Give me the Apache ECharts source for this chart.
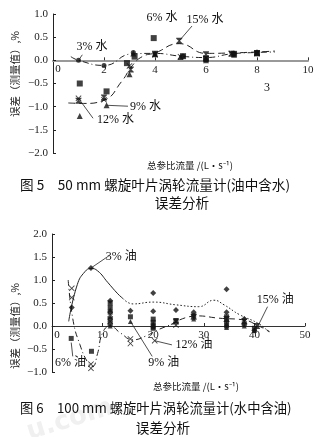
<!DOCTYPE html>
<html><head><meta charset="utf-8">
<script src="https://cdn.jsdelivr.net/npm/echarts@6/dist/echarts.min.js"></script>
<style>html,body{margin:0;padding:0;background:#fff}#c{width:328px;height:437px}</style>
</head><body><div id="c"></div>
<script>
// ---------- Figure 5 data (油中含水, x: L/s, y: %) ----------
const w3 = [[1,0],[2,-0.11],[3.15,0.17],[4,0.14],[5.1,0.09],[6,0.02],[7.1,0.15],[8,0.17]];
const w6 = [[1.05,-0.5],[2.1,-0.67],[2.9,-0.06],[3.2,0.08],[3.95,0.48],[5.1,0.09],[6,0.03],[7.1,0.14],[8,0.15]];
const w9 = [[1.05,-1.2],[2.1,-0.97],[3.0,-0.3],[3.15,0.15],[4,0.13],[5,0.07],[6,0.0],[7.1,0.12],[8,0.18]];
const w12 = [[1,-0.82],[2,-0.85],[3.0,-0.12],[4,0.12],[5,0.08],[6,0.05],[7,0.15],[8,0.15]];
const w15 = [[1,-0.87],[2,-0.8],[3.05,-0.2],[4,0.14],[4.95,0.42],[6,0.13],[7,0.14],[8,0.16]];
const wCurveA = [[0.7,0.08],[1,0],[2,-0.11],[3.1,0.14],[4,0.15],[5,0.09],[6,0.06],[7,0.14],[8,0.17],[8.7,0.18]];
const wCurveB = [[0.6,-0.92],[1.2,-0.93],[2,-0.86],[2.7,-0.45],[3.1,-0.12],[3.5,0.08],[4,0.16],[4.95,0.36],[6,0.15],[7,0.16],[8,0.18],[8.7,0.2]];

// ---------- Figure 6 data (水中含油) ----------
const o3 = [[3.9,0.4],[7.7,1.26],[11.5,0.55],[15.5,0.33],[20,0.72],[20,0.32],[24.5,0.35],[28,0.3],[34.5,0.8],[34.5,0.3],[38,0.15],[40,-0.1]];
const o6 = [[3.8,-0.27],[7.8,-0.55],[11.5,0.5],[11.5,0.4],[11.5,0.3],[11.5,0.15],[11.5,0.05],[15.5,0.2],[20,0.15],[20,0.08],[20,0.0],[20,-0.05],[24.5,0.12],[28,0.22],[34.5,0.2],[34.5,0.1],[34.5,0.0],[38,0.05],[40,-0.05]];
const o9 = [[11.5,0.35],[11.5,0.2],[11.5,0.0],[15.5,0.1],[20,0.05],[20,-0.02],[28,0.15],[34.5,0.05],[34.5,-0.03],[38,0.0],[40,-0.1]];
const o12 = [[3.9,0.82],[3.9,0.62],[7.7,-0.83],[7.7,-0.92],[11.5,0.25],[11.5,0.1],[15.5,-0.28],[15.5,-0.38],[20.3,-0.32],[24.5,0.02]];
const o15 = [[24.5,0.1],[28,0.2],[34.5,0.15],[38,0.1],[40.5,0.0]];
const oCurve3a = [[3.3,0.1],[5,0.9],[6.5,1.18],[7.7,1.25],[9,1.2],[11,0.95],[13,0.7],[14,0.6]];
const oCurve3b = [[14,0.6],[16,0.48],[20,0.52],[24.5,0.46],[29,0.42],[32,0.56],[34,0.46],[37,0.25],[41,0.04],[43,-0.15]];
const oCurve12 = [[3.2,1.0],[4.2,0.1],[5.5,-0.4],[7,-0.78],[8,-0.88],[9,-0.6],[10,-0.15],[11.5,0.0],[13.5,-0.15],[16,-0.3],[18.5,-0.22],[21,-0.08],[24,0.05]];
const oCurve15 = [[23.5,0.03],[28.6,0.22],[33,0.17],[38,0.13],[40.5,0.02],[43,-0.12]];

// tick settings
const xTicks1 = {min:0,max:10,interval:2};
const yTicks1 = {min:-2,max:1,interval:0.5};
const xTicks2 = {min:0,max:50,interval:10};
const yTicks2 = {min:-1,max:2,interval:0.5};

// annotations: [text, anchor(data), align, leaderFrom(data)|null, leaderTo(data)|null]
const ann1 = [
  ['3% 水',[1.53,0.30],'center',[1.15,0.12],[1,0]],
  ['6% 水',[4.27,0.91],'center',null,null],
  ['15% 水',[5.96,0.87],'center',[5.45,0.74],[4.95,0.42]],
  ['9% 水',[3.02,-1.0],'left',[2.94,-0.99],[2.1,-0.97]],
  ['12% 水',[1.73,-1.29],'left',[1.57,-1.25],[1,-0.82]],
  ['3',[8.39,-0.6],'center',null,null],
  ['0',[0.2,-0.2],'center',null,null]
];
const ann2 = [
  ['3% 油',[10.6,1.5],'left',[11.3,1.53],[7.7,1.26]],
  ['15% 油',[44.1,0.57],'center',[42.6,0.42],[40.8,0.02]],
  ['12% 油',[24.4,-0.4],'left',[23.7,-0.41],[20.3,-0.32]],
  ['9% 油',[19.0,-0.8],'left',[19.8,-0.66],[15.5,0.1]],
  ['6% 油',[0.6,-0.8],'left',[4.1,-0.66],[3.8,-0.36]],
  ['0',[1.0,-0.2],'center',null,null]
];

const numFont = '"Liberation Serif","DejaVu Serif",serif';
const cjkFont = '"Liberation Serif","Noto Sans CJK SC",serif';
const fmt = v => v.toFixed(1).replace('-', '\u2212');
const xShape = 'path://M0,1L1,0L5,4L9,0L10,1L6,5L10,9L9,10L5,6L1,10L0,9L4,5Z';
const hourglass = 'path://M0,0L10,0L10,1.6L6.2,5L10,8.4L10,10L0,10L0,8.4L3.8,5L0,1.6Z';

const G1 = {left:53, top:14, width:255, height:139};
const G2 = {left:52, top:234, width:253, height:138};
// distance from grid bottom up to the y=0 line
const zeroOff1 = -G1.height * (0 - yTicks1.min) / (yTicks1.max - yTicks1.min);
const zeroOff2 = -G2.height * (0 - yTicks2.min) / (yTicks2.max - yTicks2.min);

function sc(data, sym, gi, size){
  return {type:'scatter', data, symbol:sym, symbolSize:size||5, xAxisIndex:gi, yAxisIndex:gi,
    itemStyle:{color:'#111'}, z:5, silent:true};
}
function ln(data, dash, gi, w){
  return {type:'line', data, smooth:0.5, showSymbol:false, xAxisIndex:gi, yAxisIndex:gi,
    lineStyle:{color:'#222', width:w||1, type:dash}, z:3, silent:true};
}
function xAx(t, gi, lineColor, lineW, off){
  return {type:'value', gridIndex:gi, min:t.min, max:t.max, interval:t.interval, offset:off,
    axisLine:{onZero:false, lineStyle:{color:lineColor, width:lineW}},
    axisTick:{show:true, inside:true, length:3, lineStyle:{color:'#333'}},
    axisLabel:{color:'#222', fontFamily:numFont, fontSize:11, margin:4, showMinLabel:false, hideOverlap:false},
    splitLine:{show:false}};
}
function yAx(t, gi){
  return {type:'value', gridIndex:gi, min:t.min, max:t.max, interval:t.interval,
    axisLine:{show:true, onZero:false, lineStyle:{color:'#222', width:1}},
    axisTick:{show:true, inside:true, length:3, lineStyle:{color:'#222'}},
    axisLabel:{color:'#222', fontFamily:numFont, fontSize:11, margin:5, formatter:fmt},
    splitLine:{show:false}};
}

const chart = echarts.init(document.getElementById('c'), null, {renderer:'canvas'});
chart.setOption({
  animation:false,
  backgroundColor:'#fff',
  grid:[G1, G2],
  xAxis:[xAx(xTicks1,0,'#999',2,zeroOff1), xAx(xTicks2,1,'#333',1,zeroOff2)],
  yAxis:[yAx(yTicks1,0), yAx(yTicks2,1)],
  series:[
    ln(wCurveA,[6,3,1,3],0), ln(wCurveB,[7,4],0),
    sc(w3,'circle',0,5), sc(w6,'rect',0,6), sc(w9,'triangle',0,6), sc(w12,xShape,0,6), sc(w15,hourglass,0,6),
    ln(oCurve3a,'solid',1), ln(oCurve3b,[1.5,2],1), ln(oCurve12,[6,3,1,3],1), ln(oCurve15,[6,4],1),
    sc(o3,'diamond',1,6), sc(o6,'rect',1,5), sc(o9,'triangle',1,5), sc(o12,xShape,1,6), sc(o15,hourglass,1,6)
  ]
});

const g = [];
function addAnn(list, gi){
  list.forEach(a => {
    const p = chart.convertToPixel({gridIndex:gi}, a[1]);
    g.push({type:'text', z:10, style:{text:a[0], x:p[0], y:p[1], fill:'#111', font:(a[0]==='0'?'11px ':'12px ')+cjkFont,
      textAlign:a[2], textVerticalAlign:'middle'}});
    if (a[3]) {
      const f = chart.convertToPixel({gridIndex:gi}, a[3]);
      const t = chart.convertToPixel({gridIndex:gi}, a[4]);
      g.push({type:'line', z:9, shape:{x1:f[0],y1:f[1],x2:t[0],y2:t[1]}, style:{stroke:'#222', lineWidth:0.8}});
    }
  });
}
addAnn(ann1,0); addAnn(ann2,1);

function vtext(str, x, y){
  g.push({type:'text', z:10, x:x, y:y, rotation:Math.PI/2,
    style:{text:str, fill:'#222', font:'10.5px "Noto Sans CJK SC",sans-serif', textAlign:'center', textVerticalAlign:'middle'}});
}
vtext('误差（测量值）,%', 15, 74);
vtext('误差（测量值）,%', 15, 326);
function htext(str, x, y, size, align){
  g.push({type:'text', z:10, style:{text:str, x:x, y:y, fill:'#111', font:size+'px "Noto Sans CJK SC","Liberation Serif",serif',
    textAlign:align||'center', textVerticalAlign:'middle'}});
}
htext('总参比流量 /(L·s⁻¹)', 190, 165, 9.5);
htext('总参比流量 /(L·s⁻¹)', 196, 386, 9.5);
htext('图 5　50 mm 螺旋叶片涡轮流量计(油中含水)', 20, 185, 13.6, 'left');
htext('误差分析', 182, 203, 13.6);
htext('图 6　100 mm 螺旋叶片涡轮流量计(水中含油)', 20, 408, 13.3, 'left');
htext('误差分析', 163, 428, 13.6);
g.push({type:'text', z:1, x:70, y:420, rotation:0.3, style:{text:'u.com', fill:'#f0f0f0', font:'bold 26px "DejaVu Sans",sans-serif', textAlign:'center', textVerticalAlign:'middle'}});
chart.setOption({graphic:g});
</script></body></html>
